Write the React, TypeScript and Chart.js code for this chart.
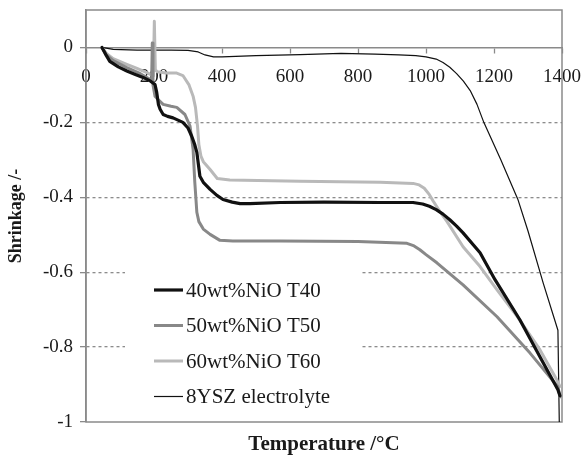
import React, { useEffect, useRef } from "react";
import { Chart, registerables } from "chart.js";

Chart.register(...registerables);

// ---- data (temperature °C, shrinkage) ----
const temps40 = [47, 60, 70, 95, 120, 145, 168, 190, 203, 208, 213, 218, 227, 240, 256, 285, 300, 311, 320, 326, 331, 335, 345, 365, 385, 403, 430, 453, 482, 571, 700, 865, 962, 990, 1010, 1030, 1050, 1070, 1090, 1109, 1159, 1203, 1276, 1335, 1388, 1394];
const vals40 = [0, -0.022, -0.037, -0.052, -0.063, -0.072, -0.08, -0.09, -0.099, -0.12, -0.152, -0.165, -0.179, -0.184, -0.188, -0.2, -0.215, -0.237, -0.26, -0.28, -0.315, -0.344, -0.36, -0.379, -0.395, -0.406, -0.413, -0.417, -0.417, -0.414, -0.413, -0.414, -0.414, -0.418, -0.424, -0.433, -0.445, -0.46, -0.477, -0.495, -0.548, -0.62, -0.727, -0.826, -0.914, -0.93];

const temps50 = [47, 60, 80, 120, 160, 188, 193, 195, 197, 203, 212, 227, 250, 267, 291, 306, 315, 320, 326, 332, 345, 365, 394, 432, 571, 800, 944, 965, 982, 1000, 1032, 1109, 1209, 1306, 1388, 1394];
const vals50 = [0, -0.02, -0.035, -0.054, -0.07, -0.085, -0.09, 0.012, -0.1, -0.13, -0.139, -0.152, -0.157, -0.16, -0.179, -0.21, -0.272, -0.36, -0.44, -0.465, -0.485, -0.499, -0.515, -0.517, -0.517, -0.518, -0.523, -0.53, -0.54, -0.553, -0.575, -0.634, -0.719, -0.816, -0.906, -0.933];

const temps60 = [47, 60, 80, 120, 150, 179, 198, 201, 204, 210, 235, 265, 285, 303, 315, 322, 328, 332, 338, 345, 365, 386, 423, 629, 865, 962, 980, 995, 1010, 1021, 1040, 1062, 1109, 1159, 1209, 1268, 1335, 1385, 1394];
const vals60 = [0, -0.016, -0.03, -0.045, -0.056, -0.067, -0.076, 0.07, -0.06, -0.065, -0.068, -0.068, -0.075, -0.1, -0.13, -0.16, -0.21, -0.26, -0.29, -0.305, -0.326, -0.35, -0.354, -0.357, -0.36, -0.363, -0.367, -0.376, -0.393, -0.41, -0.437, -0.465, -0.532, -0.585, -0.647, -0.718, -0.807, -0.888, -0.905];

const tempsYSZ = [47, 80, 150, 250, 300, 330, 350, 375, 400, 500, 630, 750, 850, 920, 970, 1000, 1030, 1050, 1070, 1090, 1110, 1130, 1150, 1170, 1195, 1220, 1270, 1300, 1345, 1388, 1392];
const valsYSZ = [0, -0.005, -0.007, -0.007, -0.008, -0.012, -0.02, -0.025, -0.025, -0.022, -0.019, -0.016, -0.018, -0.02, -0.022, -0.025, -0.031, -0.04, -0.053, -0.07, -0.09, -0.115, -0.152, -0.2, -0.25, -0.3, -0.405, -0.49, -0.63, -0.755, -1.0];

const seriesLabels = ["40wt%NiO T40", "50wt%NiO T50", "60wt%NiO T60", "8YSZ electrolyte"];
const yTickValues = [-1, -0.8, -0.6, -0.4, -0.2, 0];
const xTickValues = [0, 200, 400, 600, 800, 1000, 1200, 1400];

const SERIF = "'Liberation Serif', 'Times New Roman', serif";
const AXIS_GRAY = "#8a8a8a";
const TEXT = "#1a1a1a";

const toPoints = (xs: number[], ys: number[]) => xs.map((x, i) => ({ x, y: ys[i] }));

const zeroPadding = (scale: any) => {
  scale.paddingTop = 0;
  scale.paddingBottom = 0;
  scale.paddingLeft = 0;
  scale.paddingRight = 0;
};

const boxPlugin = {
  id: "boxPlugin",
  beforeDatasetsDraw(chart: any) {
    const { ctx, chartArea } = chart;
    ctx.save();
    ctx.strokeStyle = AXIS_GRAY;
    ctx.lineWidth = 1.5;
    ctx.strokeRect(chartArea.left, chartArea.top, chartArea.right - chartArea.left, chartArea.bottom - chartArea.top);
    ctx.restore();
  },
};

const legendPlugin = {
  id: "insideLegend",
  afterDatasetsDraw(chart: any) {
    const { ctx } = chart;
    ctx.save();
    ctx.fillStyle = "#ffffff";
    ctx.fillRect(125, 258, 237, 154);
    ctx.font = `21px ${SERIF}`;
    ctx.textBaseline = "middle";
    ctx.textAlign = "left";
    chart.data.datasets.forEach((ds: any, i: number) => {
      const y = 290 + i * 35.5;
      ctx.strokeStyle = ds.borderColor;
      ctx.lineWidth = ds.borderWidth;
      ctx.beginPath();
      ctx.moveTo(154, y);
      ctx.lineTo(183, y);
      ctx.stroke();
      ctx.fillStyle = TEXT;
      ctx.fillText(ds.label, 186, y + 1);
    });
    ctx.restore();
  },
};

export default function App() {
  const ref = useRef<HTMLCanvasElement | null>(null);

  useEffect(() => {
    if (!ref.current) return;
    const mk = (label: string, xs: number[], ys: number[], color: string, width: number) => ({
      label,
      data: toPoints(xs, ys),
      borderColor: color,
      backgroundColor: color,
      borderWidth: width,
      pointRadius: 0,
      tension: 0,
      fill: false,
      borderJoinStyle: "round" as const,
      borderCapStyle: "round" as const,
      xAxisID: "x",
      yAxisID: "y",
    });
    const chart = new Chart(ref.current, {
      type: "line",
      data: {
        datasets: [
          mk(seriesLabels[0], temps40, vals40, "#111111", 3.2),
          mk(seriesLabels[1], temps50, vals50, "#888888", 3),
          mk(seriesLabels[2], temps60, vals60, "#b9b9b9", 3),
          mk(seriesLabels[3], tempsYSZ, valsYSZ, "#111111", 1.2),
        ],
      },
      options: {
        responsive: false,
        animation: false,
        events: [],
        layout: { padding: { top: 10, right: 20, left: 0, bottom: 0 }, autoPadding: false },
        plugins: { legend: { display: false }, tooltip: { enabled: false } },
        scales: {
          y: {
            type: "linear",
            position: "left",
            min: -1,
            max: 0.1,
            afterBuildTicks: (scale: any) => {
              scale.ticks = yTickValues.map((v) => ({ value: v }));
            },
            afterFit: (scale: any) => {
              scale.width = 86;
              zeroPadding(scale);
            },
            ticks: {
              font: { family: SERIF, size: 19 },
              color: TEXT,
              padding: 7,
              callback: (v: any) => String(Math.round(Number(v) * 10) / 10),
            },
            grid: {
              color: (c: any) => {
                const v = c.tick ? c.tick.value : 0;
                return v < -0.05 && v > -0.95 ? "#8c8c8c" : "rgba(0,0,0,0)";
              },
              tickColor: AXIS_GRAY,
              lineWidth: 1.3,
              tickLength: 6,
              tickWidth: 1.3,
            },
            border: { display: true, color: AXIS_GRAY, width: 1.5, dash: [3, 3] },
            title: {
              display: true,
              text: "Shrinkage /-",
              font: { family: SERIF, size: 18, weight: "bold" },
              color: TEXT,
              padding: { top: 6, bottom: 0 },
            },
          },
          x: {
            type: "linear",
            position: { y: 0 } as any,
            min: 0,
            max: 1400,
            afterBuildTicks: (scale: any) => {
              scale.ticks = xTickValues.map((v) => ({ value: v }));
            },
            afterFit: (scale: any) => {
              scale.height = 0;
              zeroPadding(scale);
            },
            ticks: {
              font: { family: SERIF, size: 19 },
              color: TEXT,
              padding: 13,
              autoSkip: false,
              maxRotation: 0,
              callback: (v: any) => String(v),
            },
            grid: {
              drawOnChartArea: false,
              drawTicks: true,
              tickLength: 5,
              color: AXIS_GRAY,
              tickColor: AXIS_GRAY,
              tickWidth: 1.3,
            },
            border: { display: true, color: AXIS_GRAY, width: 1.5 },
          },
          xb: {
            type: "linear",
            position: "bottom",
            min: 0,
            max: 1400,
            afterFit: (scale: any) => {
              scale.height = 33;
              zeroPadding(scale);
            },
            ticks: { display: false },
            grid: { display: false, drawTicks: false },
            border: { display: false },
            title: {
              display: true,
              text: "Temperature /°C",
              font: { family: SERIF, size: 21, weight: "bold", lineHeight: 1 },
              color: TEXT,
              padding: { top: 0, bottom: 0 },
            },
          },
        },
      },
      plugins: [boxPlugin, legendPlugin],
    });
    return () => chart.destroy();
  }, []);

  return (
    <div style={{ position: "absolute", left: 0, top: 0, width: 582, height: 455, background: "#fff" }}>
      <canvas ref={ref} width={582} height={455} style={{ display: "block" }} />
    </div>
  );
}
